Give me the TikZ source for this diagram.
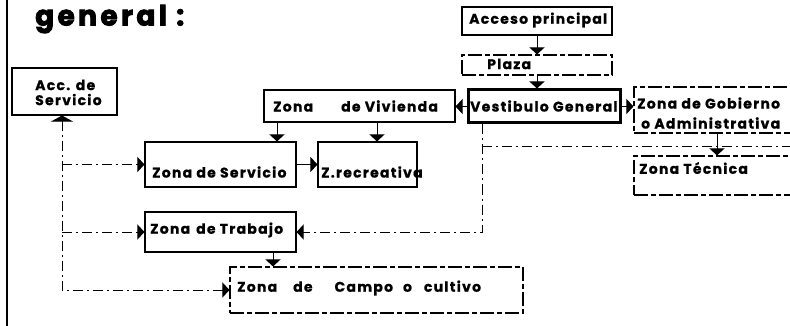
\documentclass[tikz,border=0pt]{standalone}
\usepackage{fontspec}
\setmainfont{Poppins}
\usetikzlibrary{arrows.meta}

\begin{document}
\begin{tikzpicture}[x=1pt, y=-1pt,
  >={Triangle[width=15pt,length=7pt]},
  box/.style={draw, line width=1.1pt, inner sep=0pt},
  dbox/.style={box, dash pattern=on 14pt off 3pt on 5pt off 3pt},
  thickbox/.style={box, line width=3pt},
  txt/.style={anchor=west, inner sep=0pt, align=left,
    font=\fontsize{14}{15}\selectfont\bfseries\addfontfeature{LetterSpace=9,FakeBold=0.8}},
  link/.style={line width=1pt},
  dlink/.style={link, dash pattern=on 10pt off 4pt on 2pt off 4pt}]
  % Bildbereich
  \clip (0,0) rectangle (790,326);
  \draw[line width=2pt] (7,0) -- (7,326);
  % Titel
  \node[anchor=west, inner sep=0pt,
    font=\fontsize{28}{30}\selectfont\bfseries\addfontfeature{LetterSpace=12,FakeBold=3}]
    (titel) at (35,19) {general :};
  % Kaesten
  \node[box, minimum width=105pt, minimum height=47pt] (acc) at (64.5,91.5) {};
  \node[box, minimum width=150pt, minimum height=28pt] (acceso) at (537,21) {};
  \node[dbox, minimum width=150pt, minimum height=20pt] (plaza) at (537,65) {};
  \node[thickbox, minimum width=152pt, minimum height=33pt] (vest) at (544,106.5) {};
  \node[box, minimum width=191pt, minimum height=32pt] (viv) at (359.5,106) {};
  \node[dbox, minimum width=166pt, minimum height=46pt] (gob) at (717,110) {};
  \node[dbox, minimum width=166pt, minimum height=39pt] (tec) at (717,175.5) {};
  \node[box, minimum width=151pt, minimum height=45pt] (serv) at (220.5,164.5) {};
  \node[box, minimum width=99pt, minimum height=45pt] (recre) at (367.5,164.5) {};
  \node[box, minimum width=151pt, minimum height=40pt] (trab) at (220.5,232) {};
  \node[dbox, minimum width=293pt, minimum height=46pt] (campo) at (376.5,290) {};
  % Beschriftung
  \node[txt] (acc-t) at (35,92.5) {Acc. de\\Servicio};
  \node[txt] (acceso-t) at (469,20) {Acceso principal};
  \node[txt] (plaza-t) at (487,64) {Plaza};
  \node[txt] (vest-t) at (470,106) {Vestibulo General};
  \node[txt] (viv-t) at (273,106) {Zona\hspace{28pt}de Vivienda};
  \node[txt] (gob-t) at (637,113) {Zona de Gobierno\\[5pt]\hspace{4pt}o Administrativa};
  \node[txt] (tec-t) at (639,168) {Zona Técnica};
  \node[txt] (serv-t) at (152,172) {Zona de Servicio};
  \node[txt] (recre-t) at (321,172) {Z.recreativa};
  \node[txt] (trab-t) at (150,230) {Zona\hspace{6pt}de Trabajo};
  \node[txt] (campo-t) at (237,288)
    {Zona\hspace{16pt}de\hspace{22pt}Campo\hspace{10pt}o\hspace{12pt}cultivo};
  % Verbindungen
  \draw[link,->] (acceso) -- (plaza);
  \draw[link,->] (plaza.south) -- (plaza.south |- vest.north);
  \draw[link,->] (vest.west) -- (vest.west -| viv.east);
  \draw[link,->] (vest.east) -- (vest.east -| gob.west);
  \draw[link,->] (viv.south -| 277,0) -- (serv.north -| 277,0);
  \draw[link,->] (viv.south -| 377,0) -- (recre.north -| 377,0);
  \draw[link,->] (serv) -- (recre);
  \draw[link,->] (gob.south) -- (tec.north);
  \coordinate (vtee) at (vest.south -| 482,0);
  \draw[dlink,->] (vtee) |- (trab.east);
  \draw[dlink] (vtee |- 0,147) -- ++(310,0);
  \coordinate (acc-b) at (acc.south -| 62,0);
  \draw[dlink,{Triangle[width=22pt,length=6pt]}->] (acc-b) |- (campo.west);
  \draw[dlink,->] (serv.west -| acc-b) -- (serv.west);
  \draw[dlink,->] (trab.west -| acc-b) -- (trab.west);
  \draw[link,->] (trab.south -| 273,0) -- (campo.north -| 273,0);
\end{tikzpicture}
\end{document}
